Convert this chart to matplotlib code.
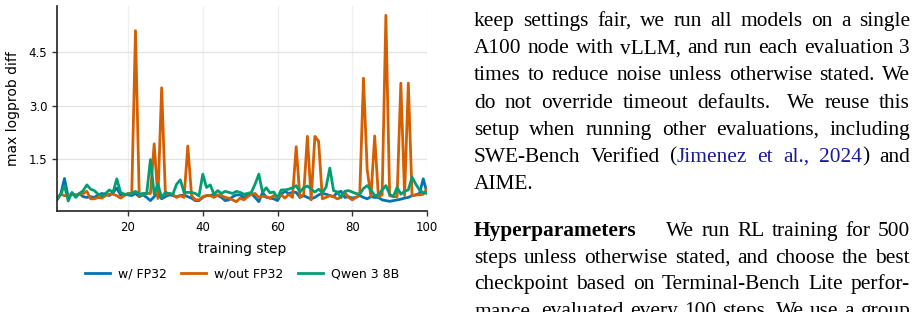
import numpy as np
import matplotlib
matplotlib.use("Agg")
import matplotlib.pyplot as plt

# ---- data (max logprob diff per training step) ----
steps = np.arange(1, 101)

fp32 = [0.36, 0.52, 0.96, 0.43, 0.54, 0.48, 0.54, 0.45, 0.43, 0.45,
        0.43, 0.50, 0.54, 0.52, 0.48, 0.57, 0.69, 0.50, 0.52, 0.50,
        0.48, 0.54, 0.45, 0.50, 0.43, 0.34, 0.45, 0.54, 0.39, 0.45,
        0.50, 0.48, 0.45, 0.48, 0.50, 0.45, 0.41, 0.34, 0.34, 0.43,
        0.48, 0.48, 0.52, 0.48, 0.43, 0.34, 0.36, 0.45, 0.50, 0.50,
        0.43, 0.50, 0.54, 0.43, 0.31, 0.57, 0.43, 0.41, 0.39, 0.34,
        0.52, 0.60, 0.54, 0.57, 0.57, 0.43, 0.48, 0.43, 0.39, 0.43,
        0.50, 0.54, 0.52, 0.48, 0.45, 0.57, 0.60, 0.43, 0.45, 0.41,
        0.43, 0.48, 0.43, 0.39, 0.45, 0.43, 0.43, 0.36, 0.34, 0.32,
        0.34, 0.36, 0.38, 0.41, 0.43, 0.48, 0.50, 0.54, 0.95, 0.55]

no_fp32 = [0.39, 0.52, 0.48, 0.48, 0.52, 0.50, 0.52, 0.54, 0.60, 0.39,
           0.39, 0.43, 0.41, 0.48, 0.52, 0.52, 0.48, 0.41, 0.48, 0.54,
           0.54, 5.10, 0.48, 0.52, 0.54, 0.54, 1.93, 0.40, 3.50, 0.52,
           0.54, 0.50, 0.43, 0.48, 0.43, 1.87, 0.48, 0.36, 0.36, 0.45,
           0.48, 0.48, 0.43, 0.50, 0.48, 0.43, 0.41, 0.36, 0.31, 0.41,
           0.36, 0.45, 0.52, 0.54, 0.43, 0.46, 0.45, 0.41, 0.48, 0.43,
           0.50, 0.41, 0.52, 0.43, 1.85, 0.43, 0.52, 2.14, 0.36, 2.14,
           2.00, 0.39, 0.43, 0.48, 0.45, 0.39, 0.43, 0.57, 0.43, 0.36,
           0.43, 0.50, 3.77, 1.20, 0.45, 2.15, 0.45, 0.50, 5.53, 0.48,
           0.45, 0.45, 3.63, 0.48, 3.63, 0.48, 0.50, 0.50, 0.52, 0.67]

qwen = [0.38, 0.52, 0.76, 0.33, 0.57, 0.43, 0.54, 0.62, 0.78, 0.66,
        0.62, 0.52, 0.47, 0.54, 0.64, 0.57, 0.95, 0.57, 0.52, 0.52,
        0.54, 0.60, 0.52, 0.54, 0.54, 1.49, 0.52, 0.80, 0.43, 0.57,
        0.54, 0.52, 0.80, 0.92, 0.57, 0.57, 0.57, 0.54, 0.47, 1.08,
        0.71, 0.78, 0.52, 0.62, 0.54, 0.60, 0.57, 0.54, 0.60, 0.57,
        0.52, 0.54, 0.57, 0.80, 1.08, 0.57, 0.70, 0.56, 0.58, 0.42,
        0.64, 0.64, 0.66, 0.70, 0.76, 0.58, 0.70, 0.75, 0.66, 0.58,
        0.66, 0.56, 0.72, 1.25, 0.62, 0.58, 0.43, 0.60, 0.62, 0.58,
        0.54, 0.52, 0.68, 0.76, 0.64, 0.48, 0.50, 0.64, 0.76, 0.52,
        0.45, 0.71, 0.52, 0.60, 0.64, 1.00, 0.80, 0.64, 0.56, 0.55]

series_labels = ["w/ FP32", "w/out FP32", "Qwen 3 8B"]
series_colors = ["#0173B2", "#D55E00", "#029E73"]
yticks = [1.5, 3.0, 4.5]
xticks = [20, 40, 60, 80, 100]

W, H = 920, 312
fig = plt.figure(figsize=(W / 100, H / 100), dpi=100)
ax = fig.add_axes([57 / W, 1 - 211 / H, 370 / W, 205 / H])

for vals, lab, col in zip([fp32, no_fp32, qwen], series_labels, series_colors):
    ax.plot(steps, vals, color=col, lw=2.0, label=lab)

ax.set_xlim(1, 100)
ax.set_xticks(xticks)
ax.set_yticks(yticks)
ax.set_yticklabels(["%.1f" % v for v in yticks])
ax.tick_params(labelsize=8.5, length=3.5, width=1, color="#333333")
ax.grid(True, axis="y", color="#e3e3e3", lw=0.9)
ax.grid(True, axis="x", color="#efefef", lw=0.9)
ax.set_axisbelow(True)
for s in ["top", "right"]:
    ax.spines[s].set_visible(False)
for s in ["left", "bottom"]:
    ax.spines[s].set_linewidth(1.2)
    ax.spines[s].set_color("#222222")
ax.set_xlabel("training step", fontsize=10, labelpad=6)
ax.set_ylabel("max logprob diff", fontsize=10, labelpad=6)

fig.legend(loc="center", bbox_to_anchor=(242 / W, 1 - 274 / H), ncol=3,
           frameon=False, fontsize=9, handlelength=2.0, columnspacing=1.2,
           handletextpad=0.6)

# ---- paper text on the right, justified ----
renderer = fig.canvas.get_renderer()
LEFT, RIGHT = 474, 910
FS = 15.4
CITE = "#1a1aa0"
base_kw = dict(fontsize=FS, family="Liberation Serif", va="baseline", ha="left")


def measure(s, weight="normal"):
    t = fig.text(0, 0, s, fontweight=weight, **base_kw)
    w = t.get_window_extent(renderer).width
    t.remove()
    return w


def draw_line(words, y_px, justify=True, gaps=None):
    # words: list of lists of (text, color, weight)
    widths = [sum(measure(s, wt) for s, c, wt in w) for w in words]
    n = len(words)
    if gaps is None:
        gaps = [1.0] * (n - 1)
    if justify and n > 1:
        unit = (RIGHT - LEFT - sum(widths)) / sum(gaps)
    else:
        unit = measure(" ")
    x = LEFT
    for i, w in enumerate(words):
        for s, c, wt in w:
            fig.text(x / W, 1 - y_px / H, s, color=c, fontweight=wt, **base_kw)
            x += measure(s, wt)
        if i < n - 1:
            x += unit * gaps[i]


def plain(line):
    return [[(w, "black", "normal")] for w in line.split()]


para1 = [
    "keep settings fair, we run all models on a single",
    "A100 node with vLLM, and run each evaluation 3",
    "times to reduce noise unless otherwise stated. We",
    "do not override timeout defaults. We reuse this",
    "setup when running other evaluations, including",
]
y0, dy = 26.2, 27.1
for i, line in enumerate(para1):
    g = None
    if "defaults." in line:
        g = [1, 1, 1, 1, 1.8, 1, 1]
    draw_line(plain(line), y0 + i * dy, gaps=g)

cite_line = [[("SWE-Bench", "black", "normal")], [("Verified", "black", "normal")],
             [("(", "black", "normal"), ("Jimenez", CITE, "normal")],
             [("et", CITE, "normal")], [("al.,", CITE, "normal")],
             [("2024", CITE, "normal"), (")", "black", "normal")],
             [("and", "black", "normal")]]
draw_line(cite_line, y0 + 5 * dy)
draw_line(plain("AIME."), y0 + 6 * dy, justify=False)

hyper = [[("Hyperparameters", "black", "bold")]] + plain("We run RL training for 500")
draw_line(hyper, 236, gaps=[4.0, 1, 1, 1, 1, 1])
para2 = [
    "steps unless otherwise stated, and choose the best",
    "checkpoint based on Terminal-Bench Lite perfor-",
    "mance, evaluated every 100 steps. We use a group",
]
for i, line in enumerate(para2):
    draw_line(plain(line), 262.7 + i * 26.7)

fig.savefig("out.png", dpi=100)
